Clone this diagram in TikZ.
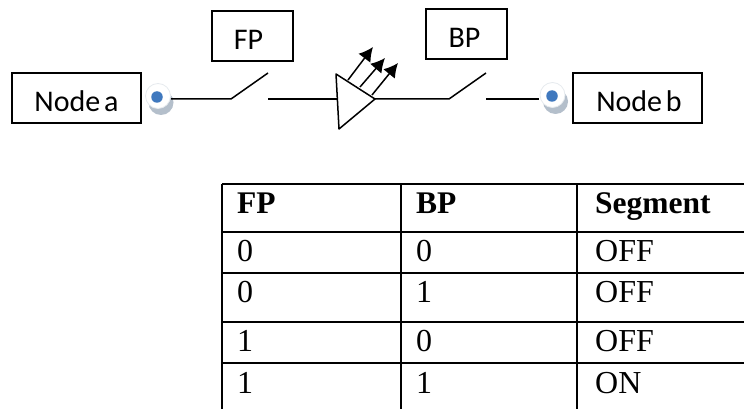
\documentclass[tikz,border=0pt]{standalone}
\usepackage{fontspec}
\setmainfont{Liberation Serif}
\newfontfamily\labelfont{Carlito}
\usetikzlibrary{shadows, arrows.meta}

\definecolor{termgrey}{HTML}{B4BFCB}
\definecolor{termrim}{HTML}{E6EAEE}
\definecolor{termblue}{HTML}{3F78BE}

\tikzset{
	labelbox/.style={draw, line width=1.5pt, inner sep=0pt, text height=28pt, text depth=0pt, font=\labelfont\fontsize{30}{30}\selectfont},
	wire/.style={line width=1.5pt, line join=round},
	terminal/.style={circle, draw=termrim, line width=0.8pt, fill=white, inner sep=0pt, minimum size=25pt, drop shadow={shadow xshift=3pt, shadow yshift=-6.5pt, opacity=1, fill=termgrey, draw=none}},
	termdot/.style={circle, fill=termblue, inner sep=0pt, minimum size=11.5pt},
	cell/.style={anchor=base west, inner sep=0pt, font=\fontsize{32}{32}\selectfont},
	headcell/.style={cell, font=\bfseries\fontsize{31.5}{32}\selectfont},
	ray/.style={line width=1.5pt, -{Latex[length=14pt,width=15pt]}},
}

\begin{document}
\begin{tikzpicture}[x=1pt,y=-1pt]
	\useasboundingbox (0,0) rectangle (744,409);
	\node[labelbox, minimum width=129pt, minimum height=50pt] (nodea) at (76.5,98) {Node\kern-3pt\ a};
	\node[labelbox, minimum width=81pt, minimum height=50pt] (fp) at (252.5,36) {FP\kern8pt};
	\node[labelbox, minimum width=81pt, minimum height=50pt] (bp) at (466.5,34) {BP\kern4pt};
	\node[labelbox, minimum width=129pt, minimum height=50pt] (nodeb) at (637.5,98) {\kern3pt Node\kern-3pt\ b};

	\node[terminal] (terma) at (158,96) {};
	\node[terminal] (termb) at (552.5,95) {};
	\node[termdot] (dota) at (157,97) {};
	\node[termdot] (dotb) at (552,96) {};

	\coordinate (wirea) at (171,99);
	\coordinate (fpin) at (231,99);
	\coordinate (fptip) at (268,73);
	\coordinate (fpout) at (268,99);
	\coordinate (bpin) at (449,99);
	\coordinate (bptip) at (486,73);
	\coordinate (bpout) at (486,99);
	\coordinate (wireb) at (539,99);
	\coordinate (triup) at (336,74);
	\coordinate (tridown) at (339,129);
	\coordinate (triapex) at (375,99);
	\coordinate (triin) at (338,99);

	\draw[wire] (wirea) -- (fpin) -- (fptip);
	\draw[wire] (fpout) -- (triin);
	\draw[wire] (triapex) -- (bpin) -- (bptip);
	\draw[wire] (bpout) -- (wireb);
	\draw[wire] (triup) -- (tridown) -- (triapex) -- cycle;

	\coordinate (rayo1) at (348,80);
	\coordinate (rayo2) at (360,87);
	\coordinate (rayo3) at (372,95);
	\coordinate (rayt1) at (373,47);
	\coordinate (rayt2) at (385,58);
	\coordinate (rayt3) at (398,63);
	\draw[ray] (rayo1) -- (rayt1);
	\draw[ray] (rayo2) -- (rayt2);
	\draw[ray] (rayo3) -- (rayt3);

	% table rules
	\foreach \rowy in {184,232,273,322,363}
		\draw[line width=1.5pt] (222,\rowy) -- (744,\rowy);
	\foreach \colx in {222,401,577}
		\draw[line width=1.5pt] (\colx,184) -- (\colx,409);

	\node[headcell] (headfp) at (237,213.5) {FP};
	\node[headcell] (headbp) at (416,213.5) {BP};
	\node[headcell] (headseg) at (595,213.5) {Segment};

	\node[cell] (fpa) at (237,261) {0};
	\node[cell] (bpa) at (416,261) {0};
	\node[cell] (sega) at (595,261) {OFF};
	\node[cell] (fpb) at (237,302) {0};
	\node[cell] (bpb) at (416,302) {1};
	\node[cell] (segb) at (595,302) {OFF};
	\node[cell] (fpc) at (237,351) {1};
	\node[cell] (bpc) at (416,351) {0};
	\node[cell] (segc) at (595,351) {OFF};
	\node[cell] (fpd) at (237,393) {1};
	\node[cell] (bpd) at (416,393) {1};
	\node[cell] (segd) at (595,393) {ON};
\end{tikzpicture}
\end{document}
